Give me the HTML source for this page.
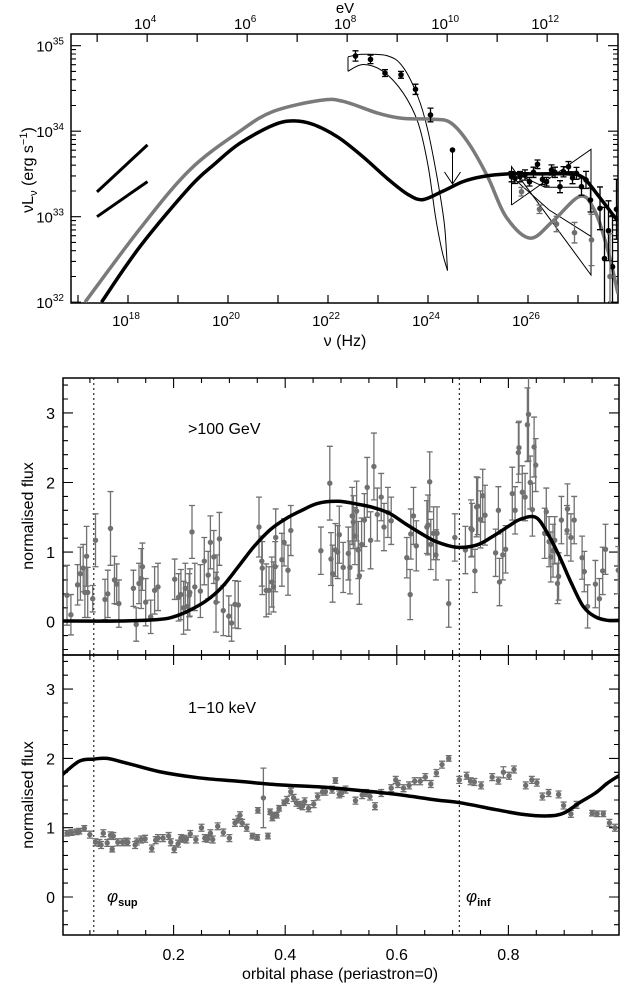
<!DOCTYPE html>
<html><head><meta charset="utf-8"><style>
html,body{margin:0;padding:0;background:#fff;}
svg{display:block;font-family:"Liberation Sans",sans-serif;}
</style></head><body>
<svg id="fig" width="620" height="983" viewBox="0 0 620 983" xmlns="http://www.w3.org/2000/svg">
<defs>
<clipPath id="clipTop"><rect x="71" y="34" width="547" height="269"/></clipPath>
<clipPath id="clipMid"><rect x="63" y="378" width="556" height="277"/></clipPath>
<clipPath id="clipBot"><rect x="63" y="655" width="556" height="280"/></clipPath>
</defs>
<g id="gTop"></g>
<g id="gMid"></g>
<g id="gBot"></g>
<text x="345" y="13" font-size="15" text-anchor="middle">eV</text>
<text x="345" y="346" font-size="16" text-anchor="middle">ν (Hz)</text>
<text transform="translate(33,170) rotate(-90)" font-size="16" text-anchor="middle">νL<tspan font-size="11" dy="4">ν</tspan><tspan dy="-4"> (erg s</tspan><tspan font-size="11" dy="-6">−1</tspan><tspan dy="6">)</tspan></text>
<text transform="translate(33,516) rotate(-90)" font-size="16" text-anchor="middle">normalised flux</text>
<text transform="translate(33,795) rotate(-90)" font-size="16" text-anchor="middle">normalised flux</text>
<text x="340" y="979" font-size="16" text-anchor="middle">orbital phase (periastron=0)</text>
<text x="188" y="434" font-size="16">&gt;100 GeV</text>
<text x="188" y="713" font-size="16">1−10 keV</text>
<text x="107" y="902" font-size="17" font-style="italic">φ<tspan font-size="11" font-style="normal" font-weight="bold" dy="4">sup</tspan></text>
<text x="466" y="902" font-size="17" font-style="italic">φ<tspan font-size="11" font-style="normal" font-weight="bold" dy="4">inf</tspan></text>
</svg>
<script>
// ---------- SED data (log10 nu [Hz], log10 nuLnu [erg/s]) ----------
const blackModelNu = [17.47,18.24,19.24,19.74,20.24,20.9,21.3,21.7,22.2,22.7,23.2,23.6,23.9,24.3,24.7,25.1,25.6,26.2,26.8,27.1,27.4,27.78];
const blackModelL  = [32.0,32.65,33.35,33.62,33.86,34.07,34.12,34.08,33.93,33.7,33.44,33.26,33.2,33.3,33.41,33.47,33.5,33.5,33.5,33.46,33.25,32.96];
const grayModelNu = [17.14,18.24,19.24,20.24,20.9,21.84,22.3,23.0,23.5,24.1,24.45,24.8,25.2,25.56,26.04,26.5,27.05,27.35,27.6,27.8];
const grayModelL  = [32.0,32.86,33.55,34.0,34.23,34.36,34.35,34.21,34.15,34.14,34.1,33.87,33.46,33.0,32.75,32.95,33.24,33.05,32.6,32.1];
const xrayUpperNu = [17.38,18.39];
const xrayUpperL  = [33.29,33.84];
const xrayLowerNu = [17.38,18.39];
const xrayLowerL  = [33.0,33.41];
const fermiNu  = [22.55,22.85,23.14,23.46,23.75,24.05];
const fermiL   = [34.88,34.84,34.68,34.66,34.49,34.19];
const fermiErr = [0.06,0.05,0.04,0.04,0.06,0.08];
const fermiLimitNu = [24.49];
const fermiLimitL  = [33.78];
const fermiOuterNu = [22.4,22.7,23.2,23.5,23.8,24.0,24.2,24.33,24.39];
const fermiOuterL  = [34.87,34.9,34.88,34.75,34.4,34.0,33.4,32.9,32.37];
const fermiInnerNu = [22.4,22.7,23.1,23.5,23.8,24.0,24.15,24.28,24.39];
const fermiInnerL  = [34.7,34.78,34.7,34.45,34.1,33.6,33.0,32.6,32.37];
const tevBfly1Nu = [25.67,27.26,27.26,25.67,25.67];
const tevBfly1L  = [33.137,33.788,32.318,33.585,33.137];
const tevBfly2Nu = [25.67,26.34,27.1];
const tevBfly2L  = [33.53,33.344,33.344];
const tevBfly3Nu = [25.67,26.42,27.26];
const tevBfly3L  = [33.47,33.08,32.77];
const tevBlackNu  = [25.67,25.74,25.84,25.94,26.03,26.11,26.19,26.29,26.37,26.47,26.54,26.64,26.71,26.81,26.89,26.97,27.07,27.16,27.25,27.44,27.53,27.61,27.69,27.77];
const tevBlackL   = [33.468,33.449,33.468,33.488,33.409,33.519,33.613,33.437,33.409,33.546,33.519,33.351,33.526,33.585,33.456,33.507,33.351,33.43,33.195,33.098,32.51,32.836,32.415,33.087];
const tevBlackErr = [0.06,0.06,0.06,0.06,0.05,0.06,0.05,0.06,0.05,0.06,0.06,0.07,0.06,0.06,0.07,0.07,0.1,0.1,0.14,0.25,0.6,0.35,0.6,0.35];
const tevGrayNu  = [25.87,26.23,26.57,26.93,27.27,27.64];
const tevGrayL   = [33.292,33.087,32.915,32.813,32.728,32.30];
const tevGrayErr = [0.05,0.05,0.09,0.12,0.3,0.5];
const nuTickLabels = [18,20,22,24,26];
const lumTickLabels = [32,33,34,35];
const evTickLabels = [4,6,8,10,12];

// ---------- TeV light curve ----------
const tevPhase = [.009,.016,.028,.033,.038,.041,.044,.046,.055,.060,.077,.082,.087,.094,.098,.102,.133,.128,.138,.142,.144,.150,.159,.166,.172,.202,.209,.213,.218,.221,.225,.228,.229,.233,.238,.248,.255,.262,.266,.272,.276,.278,.282,.289,.299,.304,.310,.316,.353,.358,.359,.366,.371,.376,.379,.382,.383,.394,.398,.405,.410,.464,.480,.482,.485,.490,.494,.497,.504,.513,.516,.520,.522,.525,.528,.531,.533,.537,.542,.547,.553,.559,.565,.572,.577,.584,.590,.618,.624,.625,.630,.635,.654,.656,.659,.661,.666,.670,.672,.693,.704,.723,.733,.735,.740,.743,.745,.750,.754,.758,.777,.782,.784,.790,.795,.807,.812,.818,.819,.825,.830,.834,.836,.839,.843,.846,.849,.865,.868,.873,.876,.880,.883,.888,.890,.895,.905,.906,.912,.918,.932,.936,.942,.956,.963,.969,.974,.997];
const tevFlux = [.38,.10,.53,.69,.77,.42,.94,.42,.33,1.17,.32,.40,1.34,.60,.54,.26,-.04,.48,.55,.62,.79,.28,.07,.45,.50,.61,.35,.39,.20,.48,.22,.38,.42,1.29,.50,.44,.87,.67,1.14,.93,.28,.62,1.19,.16,.08,-.02,.25,.24,1.36,.87,.77,.45,.45,.57,.50,.79,1.21,.89,1.14,.74,1.31,1.02,1.99,.90,.69,1.03,1.00,1.25,.78,.98,.78,1.52,1.43,1.23,1.59,1.03,.66,1.11,1.46,1.93,1.17,2.23,1.54,1.79,1.36,1.57,1.45,.92,.39,1.26,1.52,1.09,1.36,1.39,2.01,1.11,1.27,.96,1.27,.26,1.21,1.03,1.34,1.32,.73,1.65,1.66,1.47,1.81,1.53,.99,1.60,.57,.96,1.04,1.84,1.60,2.43,2.50,1.86,1.79,2.83,2.98,2.00,1.61,2.51,2.25,1.27,1.58,1.15,.93,1.02,1.17,.55,.65,1.46,1.31,1.62,1.21,1.46,.92,.72,.22,.54,.33,.73,1.04,.74];
const tevErr = [.43,.29,.29,.38,.34,.36,.43,.36,.19,.38,.29,.34,.53,.34,.29,.34,.24,.26,.29,.43,.34,.34,.24,.34,.34,.29,.34,.36,.38,.36,.34,.31,.34,.38,.34,.38,.34,.34,.38,.38,.43,.34,.38,.36,.29,.26,.34,.34,.43,.36,.38,.38,.34,.36,.36,.36,.41,.38,.34,.36,.36,.34,.53,.38,.41,.38,.38,.41,.36,.38,.38,.41,.38,.41,.43,.41,.41,.38,.38,.43,.41,.48,.38,.34,.34,.36,.34,.29,.36,.36,.41,.36,.38,.43,.43,.36,.38,.36,.38,.34,.34,.34,.41,.38,.31,.43,.41,.41,.38,.43,.34,.34,.34,.36,.34,.38,.34,.43,.38,.38,.34,.53,.67,.38,.38,.43,.38,.36,.34,.36,.36,.38,.34,.29,.34,.34,.36,.36,.34,.34,.31,.29,.31,.34,.29,.34,.36,.34];
const tevModelPhase = [0,.1,.17,.2,.23,.26,.287,.316,.344,.373,.401,.43,.458,.494,.529,.558,.586,.615,.643,.671,.707,.743,.771,.8,.821,.849,.87,.892,.913,.934,.956,.977,1.0];
const tevModelFlux  = [.01,.01,.03,.07,.17,.31,.50,.79,1.08,1.32,1.48,1.60,1.70,1.73,1.69,1.64,1.56,1.41,1.27,1.15,1.07,1.10,1.22,1.37,1.47,1.50,1.27,.93,.55,.22,.07,.02,.02];

// ---------- X-ray light curve ----------
const xPhase = [.009,.017,.026,.031,.040,.050,.060,.067,.070,.074,.081,.087,.090,.092,.100,.108,.115,.118,.131,.134,.142,.149,.161,.168,.172,.181,.191,.195,.201,.208,.213,.218,.223,.230,.240,.250,.256,.261,.266,.270,.279,.289,.300,.310,.316,.319,.323,.331,.341,.350,.351,.361,.369,.373,.377,.380,.385,.389,.398,.403,.410,.415,.420,.426,.431,.435,.442,.451,.458,.467,.472,.484,.490,.497,.501,.508,.526,.538,.545,.552,.561,.572,.590,.598,.602,.612,.622,.632,.642,.651,.661,.671,.681,.693,.712,.725,.732,.739,.751,.771,.782,.791,.801,.810,.831,.842,.851,.861,.872,.890,.899,.912,.922,.950,.959,.970,.981,.991];
const xFlux = [.92,.93,.94,.95,.99,.90,.79,.78,.75,.92,.78,.89,.69,.88,.79,.79,.80,.79,.75,.80,.83,.84,.70,.82,.85,.85,.88,.79,.69,.77,.85,.84,.83,.91,.83,1.00,.85,.84,.92,.83,1.02,.93,.85,1.07,1.12,1.18,1.07,1.00,.88,.86,1.25,1.43,.88,1.23,1.14,1.18,1.18,1.28,1.36,1.40,1.52,1.43,1.36,1.33,1.31,1.38,1.28,1.34,1.45,1.52,1.52,1.55,1.68,1.48,1.50,1.55,1.39,1.47,1.50,1.45,1.31,1.50,1.57,1.69,1.63,1.57,1.61,1.67,1.67,1.73,1.63,1.79,1.91,2.00,1.69,1.75,1.67,1.66,1.61,1.73,1.68,1.80,1.75,1.84,1.61,1.69,1.65,1.45,1.50,1.48,1.32,1.20,1.33,1.21,1.20,1.20,1.07,1.00];
const xErr = [.04,.04,.04,.04,.04,.05,.05,.05,.05,.05,.05,.05,.04,.05,.05,.05,.05,.05,.05,.05,.05,.05,.05,.05,.05,.05,.05,.05,.05,.05,.05,.05,.05,.05,.05,.05,.05,.05,.05,.05,.05,.05,.05,.05,.05,.05,.05,.05,.04,.04,.04,.43,.04,.04,.04,.04,.04,.04,.04,.05,.05,.05,.05,.05,.05,.05,.05,.05,.05,.05,.05,.05,.04,.05,.05,.05,.05,.05,.05,.05,.05,.05,.05,.05,.05,.05,.05,.05,.05,.05,.05,.05,.05,.04,.05,.05,.05,.05,.05,.05,.05,.08,.05,.05,.05,.05,.05,.05,.05,.05,.05,.05,.05,.04,.04,.04,.05,.05];
const xModelPhase = [0,.031,.057,.081,.117,.174,.245,.316,.387,.458,.529,.6,.671,.714,.778,.828,.871,.899,.927,.956,.977,1.0];
const xModelFlux  = [1.76,1.96,1.99,2.0,1.93,1.81,1.72,1.67,1.62,1.59,1.54,1.48,1.40,1.36,1.26,1.19,1.17,1.21,1.36,1.50,1.64,1.76];
const phaseTickLabels = [0.2,0.4,0.6,0.8];
const fluxTickLabels = [0,1,2,3];
const phiSup = 0.057, phiInf = 0.712;

// ---------- scales ----------
const xNu = v => 128 + 50*(v-18);
const yLum = v => 45.7 + 85.5*(35-v);
const xPh = p => 62 + 558*p;
const yMid = f => 621.7 - 69.6*f;
const yBot = f => 897 - 69.3*f;
const NS = 'http://www.w3.org/2000/svg';
function mk(parent, tag, attrs){
  const e = document.createElementNS(NS, tag);
  for (const k in attrs) e.setAttribute(k, attrs[k]);
  parent.appendChild(e);
  return e;
}
function smooth(pts){
  let d = 'M'+pts[0][0].toFixed(1)+','+pts[0][1].toFixed(1);
  for (let i=0;i<pts.length-1;i++){
    const p0=pts[Math.max(0,i-1)], p1=pts[i], p2=pts[i+1], p3=pts[Math.min(pts.length-1,i+2)];
    const c1=[p1[0]+(p2[0]-p0[0])/6, p1[1]+(p2[1]-p0[1])/6];
    const c2=[p2[0]-(p3[0]-p1[0])/6, p2[1]-(p3[1]-p1[1])/6];
    d+=' C'+c1[0].toFixed(1)+','+c1[1].toFixed(1)+' '+c2[0].toFixed(1)+','+c2[1].toFixed(1)+' '+p2[0].toFixed(1)+','+p2[1].toFixed(1);
  }
  return d;
}
function lin(pts){ return 'M'+pts.map(p=>p[0].toFixed(1)+','+p[1].toFixed(1)).join(' L'); }
function errPoint(g, x, y, yLo, yHi, col, r){
  const bar = mk(g,'path',{d:'M'+x+','+yLo+' V'+yHi+' M'+(x-3)+','+yLo+' h6 M'+(x-3)+','+yHi+' h6', stroke:col, 'stroke-width':1.3, fill:'none'});
  
  
  const c = mk(g,'circle',{cx:x, cy:y, r:r, fill:col});
  
  
}

// ================= TOP PANEL =================
const gT = document.getElementById('gTop');
const TL=71, TR=618, TT=34, TB=303;
const frT = mk(gT,'rect',{x:TL,y:TT,width:TR-TL,height:TB-TT,fill:'none',stroke:'#000','stroke-width':1.5});


for (let d=17; d<=27; d++){
  const x=xNu(d); if (x<TL||x>TR) continue;
  const t=mk(gT,'path',{d:'M'+x+','+TB+' v-8',stroke:'#000','stroke-width':1.2});
  
  
}
nuTickLabels.forEach(v=>{
  const t=mk(gT,'text',{x:xNu(v)-2,y:326,'font-size':15,'text-anchor':'middle'});
  
  
  t.innerHTML='10<tspan font-size="10" dy="-7">'+v+'</tspan>';
});
for (let e=3; e<=13; e++){
  const x=xNu(e+14.383); if (x<TL||x>TR) continue;
  const t=mk(gT,'path',{d:'M'+x+','+TT+' v8',stroke:'#000','stroke-width':1.2});
  
  
}
evTickLabels.forEach(v=>{
  const t=mk(gT,'text',{x:xNu(v+14.383)-2,y:29,'font-size':15,'text-anchor':'middle'});
  
  
  t.innerHTML='10<tspan font-size="10" dy="-7">'+v+'</tspan>';
});
for (let d=31; d<=35; d++){
  for (let k=1;k<=9;k++){
    const v=d+Math.log10(k), y=yLum(v);
    if (y<TT||y>TB) continue;
    const len = k===1?10:5;
    const t=mk(gT,'path',{d:'M'+TL+','+y.toFixed(1)+' h'+len+' M'+TR+','+y.toFixed(1)+' h-'+len,stroke:'#000','stroke-width':1.1});
    
    
  }
}
lumTickLabels.forEach(v=>{
  const t=mk(gT,'text',{x:64,y:yLum(v)+6,'font-size':15,'text-anchor':'end'});
  
  
  t.innerHTML='10<tspan font-size="10" dy="-7">'+v+'</tspan>';
});
const cT = mk(gT,'g',{'clip-path':'url(#clipTop)'});


[[xrayUpperNu,xrayUpperL,'xray-spectrum-high'],[xrayLowerNu,xrayLowerL,'xray-spectrum-low']].forEach(s=>{
  const p=mk(cT,'path',{d:lin(s[0].map((v,i)=>[xNu(v),yLum(s[1][i])])),stroke:'#000','stroke-width':3,fill:'none'});
  
  
});
[[fermiOuterNu,fermiOuterL,'fermi-butterfly-outer'],[fermiInnerNu,fermiInnerL,'fermi-butterfly-inner']].forEach(s=>{
  const p=mk(cT,'path',{d:smooth(s[0].map((v,i)=>[xNu(v),yLum(s[1][i])])),stroke:'#000','stroke-width':1,fill:'none'});
  
  
});
const fbl=mk(cT,'path',{d:'M'+xNu(fermiOuterNu[0])+','+yLum(fermiOuterL[0])+' V'+yLum(fermiInnerL[0]),stroke:'#000','stroke-width':1,fill:'none'});


[[tevBfly1Nu,tevBfly1L,'hess-butterfly'],[tevBfly2Nu,tevBfly2L,'tev-butterfly-2'],[tevBfly3Nu,tevBfly3L,'tev-butterfly-3']].forEach(s=>{
  const p=mk(cT,'path',{d:lin(s[0].map((v,i)=>[xNu(v),yLum(s[1][i])])),stroke:'#000','stroke-width':1,fill:'none'});
  
  
});
const gm=mk(cT,'path',{d:smooth(grayModelNu.map((v,i)=>[xNu(v),yLum(grayModelL[i])])),stroke:'#7a7a7a','stroke-width':3.5,fill:'none'});


const bm=mk(cT,'path',{d:smooth(blackModelNu.map((v,i)=>[xNu(v),yLum(blackModelL[i])])),stroke:'#000','stroke-width':3.5,fill:'none'});


fermiNu.forEach((v,i)=>errPoint(cT,xNu(v),yLum(fermiL[i]),yLum(fermiL[i]-fermiErr[i]),yLum(fermiL[i]+fermiErr[i]),'#000',2.8));
tevBlackNu.forEach((v,i)=>errPoint(cT,xNu(v),yLum(tevBlackL[i]),yLum(tevBlackL[i]-tevBlackErr[i]),yLum(tevBlackL[i]+tevBlackErr[i]),'#000',2.8));
tevGrayNu.forEach((v,i)=>errPoint(cT,xNu(v),yLum(tevGrayL[i]),yLum(tevGrayL[i]-tevGrayErr[i]),yLum(tevGrayL[i]+tevGrayErr[i]),'#6e6e6e',2.8));
fermiLimitNu.forEach((v,i)=>{
  const x=xNu(v), y=yLum(fermiLimitL[i]), y2=y+34;
  const c=mk(cT,'circle',{cx:x,cy:y,r:2.8,fill:'#000'});
  
  
  const a=mk(cT,'path',{d:'M'+x+','+y+' V'+y2+' M'+(x-8)+','+(y2-12)+' L'+x+','+y2+' L'+(x+8)+','+(y2-12),stroke:'#000','stroke-width':1,fill:'none'});
  
  
});

// ================= LIGHT CURVE PANELS =================
function lcPanel(g, top, bot, yS, clip, ph, fl, er, mph, mfl, showLabels, prefix){
  const L=63, R=619;
  const fr=mk(g,'rect',{x:L,y:top,width:R-L,height:bot-top,fill:'none',stroke:'#000','stroke-width':1.5});
  
  
  for (let k=1;k<20;k++){
    const p=k*0.05, x=xPh(p), len=(k%4===0)?10:5;
    const t=mk(g,'path',{d:'M'+x.toFixed(1)+','+bot+' v-'+len+' M'+x.toFixed(1)+','+top+' v'+len,stroke:'#000','stroke-width':1.1});
    
    
  }
  for (let k=-2;k<=17;k++){
    const f=k*0.2, y=yS(f); if (y<top+1||y>bot-1) continue;
    const len=(k%5===0)?10:5;
    const t=mk(g,'path',{d:'M'+L+','+y.toFixed(1)+' h'+len+' M'+R+','+y.toFixed(1)+' h-'+len,stroke:'#000','stroke-width':1.1});
    
    
  }
  fluxTickLabels.forEach(v=>{
    const t=mk(g,'text',{x:55,y:yS(v)+6,'font-size':16,'text-anchor':'end'});
    
    
    t.textContent=v;
  });
  if (showLabels){
    phaseTickLabels.forEach(v=>{
      const t=mk(g,'text',{x:xPh(v),y:bot+25,'font-size':16,'text-anchor':'middle'});
      
      
      t.textContent=v.toFixed(1);
    });
  }
  [phiSup,phiInf].forEach(p=>{
    const l=mk(g,'path',{d:'M'+xPh(p).toFixed(1)+','+top+' V'+bot,stroke:'#000','stroke-width':1,'stroke-dasharray':'2,3'});
    
    
  });
  const c=mk(g,'g',{'clip-path':'url(#'+clip+')'});
  
  
  ph.forEach((p,i)=>errPoint(c,+xPh(p).toFixed(1),yS(fl[i]),yS(fl[i]-er[i]),yS(fl[i]+er[i]),'#707070',2.7));
  const m=mk(c,'path',{d:smooth(mph.map((p,i)=>[xPh(p),yS(mfl[i])])),stroke:'#000','stroke-width':3.5,fill:'none'});
  
  
}
lcPanel(document.getElementById('gMid'),378,655,yMid,'clipMid',tevPhase,tevFlux,tevErr,tevModelPhase,tevModelFlux,false,'tev');
lcPanel(document.getElementById('gBot'),655,935,yBot,'clipBot',xPhase,xFlux,xErr,xModelPhase,xModelFlux,true,'xray');
</script>
</body></html>
